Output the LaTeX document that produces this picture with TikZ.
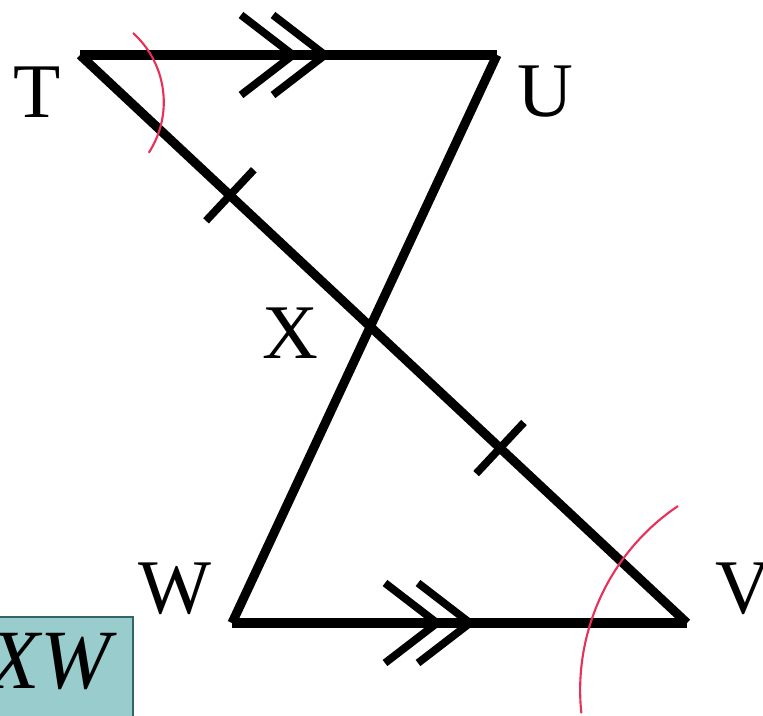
\documentclass[tikz,border=0pt]{standalone}
\usepackage{fontspec}
\setmainfont{Liberation Serif}
\usetikzlibrary{calc}
\definecolor{arcred}{RGB}{232,48,88}
\definecolor{boxfill}{RGB}{153,204,204}
\definecolor{boxline}{RGB}{51,102,102}

\begin{document}
\begin{tikzpicture}[seg/.style={line width=2.6pt},chev/.style={line width=2.2pt},tickline/.style={line width=2.2pt},
  lbl/.style={font=\fontsize{22}{26}\selectfont,inner sep=0pt}]
  \useasboundingbox (0,0) rectangle (7.63,7.15);
  \coordinate (T) at (0.80,6.60); \coordinate (U) at (4.97,6.60); \coordinate (W) at (2.32,0.92); \coordinate (V) at (6.87,0.92);
  \coordinate (X) at (intersection of T--V and U--W);
  \draw[seg] (T)--(U); \draw[seg] (W)--(V); \draw[seg] (T)--(V); \draw[seg] (U)--(W);
  % parallel marks
  \foreach \x in {2.93,3.25} \draw[chev] (\x-0.52,7.00) -- (\x,6.60) -- (\x-0.52,6.20);
  \foreach \x in {4.37,4.70} \draw[chev] (\x-0.52,1.32) -- (\x,0.92) -- (\x-0.52,0.52);
  % equal marks
  \path (T) -- (V) coordinate[pos=0.247] (k1) coordinate[pos=0.692] (k2);
  \foreach \k in {k1,k2} \draw[tickline] ($(\k)!0.35cm!90:(V)$) -- ($(\k)!0.35cm!-90:(V)$);
  % arcs
  \draw[arcred,line width=0.6pt] (1.33,6.82) arc[start angle=48,end angle=-33,radius=0.93];
  \draw[arcred,line width=0.6pt] (6.78,2.09) arc[start angle=124,end angle=186,radius=2.22];
  \node[lbl] (labT) at (0.37,6.23) {T}; \node[lbl] (labU) at (5.45,6.23) {U};
  \node[lbl] (labX) at (2.90,3.82) {X};
  \node[lbl] (labW) at (1.75,1.26) {W}; \node[lbl] (labV) at (7.43,1.26) {V};
  \draw[boxline,fill=boxfill,line width=0.6pt] (-0.1,-0.1) rectangle (1.33,0.98);
  \node[font=\fontsize{24}{28}\selectfont\itshape,anchor=base east,inner sep=0pt] (boxtxt) at (1.11,0.27) {XW};
\end{tikzpicture}
\end{document}
